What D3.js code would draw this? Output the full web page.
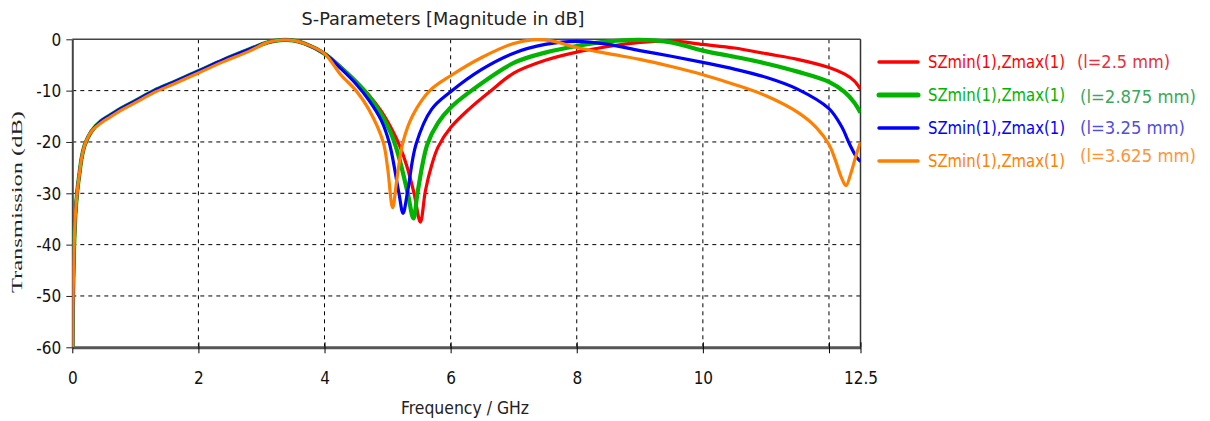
<!DOCTYPE html>
<html><head><meta charset="utf-8">
<script src="https://cdn.jsdelivr.net/npm/d3@7"></script>
<style>
html,body{margin:0;padding:0;background:#fff;}
svg{display:block;}
</style></head>
<body>
<svg id="chart" width="1210" height="421"></svg>
<script>
// ---------- data ----------
const xTicks = [0, 2, 4, 6, 8, 10, 12, 12.5];
const xTickLabels = ["0", "2", "4", "6", "8", "10", "", "12.5"];
const yTicks = [0, -10, -20, -30, -40, -50, -60];
const seriesNames = ["SZmin(1),Zmax(1)", "SZmin(1),Zmax(1)", "SZmin(1),Zmax(1)", "SZmin(1),Zmax(1)"];
const seriesLengths = ["(l=2.5 mm)", "(l=2.875 mm)", "(l=3.25 mm)", "(l=3.625 mm)"];
const seriesColors = ["#ff0000", "#00b400", "#0000ff", "#ff8000"];
const labelColors = ["#e8303c", "#3aa85a", "#5050dc", "#ff9438"];

// shared low-frequency part (GHz, dB)
const commonF = [0.005, 0.01, 0.02, 0.03, 0.05, 0.08, 0.11, 0.15, 0.2, 0.3, 0.45, 0.6, 0.8, 1.0, 1.3, 1.6, 2.0, 2.4, 2.8, 3.1, 3.3, 3.5, 3.7, 4.0];
const commonDb = [-60, -52, -45, -40, -34, -29.5, -26.5, -23, -20.5, -18, -16, -14.8, -13.3, -12, -10, -8.4, -6.2, -4.0, -2.0, -0.6, -0.15, -0.2, -0.9, -2.8];

const redF  = [4.25, 4.5, 4.7, 4.9, 5.1, 5.2, 5.3, 5.42, 5.52, 5.6, 5.7, 5.8, 6.0, 6.3, 6.64, 7.0, 7.5, 8.0, 8.5, 9.0, 9.5, 10.0, 10.5, 11.0, 11.5, 12.0, 12.25, 12.4, 12.5];
const redDb = [-5.3, -8.2, -10.8, -14, -18.3, -21, -24.5, -30, -35.6, -29.5, -24.5, -21, -17.2, -13.5, -10, -6.6, -4.1, -2.5, -1.4, -0.6, -0.3, -1.0, -1.7, -2.8, -3.9, -5.5, -6.8, -8.1, -9.7];

const greenF  = [4.25, 4.5, 4.7, 4.9, 5.05, 5.17, 5.32, 5.41, 5.48, 5.63, 5.8, 6.0, 6.33, 7.0, 7.5, 8.0, 8.5, 9.0, 9.5, 10.0, 10.5, 11.0, 11.5, 12.0, 12.25, 12.4, 12.5];
const greenDb = [-5.4, -8.3, -11, -14.6, -18.2, -22.5, -30, -34.9, -29.5, -20.5, -16.3, -13.3, -10, -4.6, -2.6, -1.3, -0.4, -0.1, -0.6, -2.2, -3.4, -4.7, -6.3, -8.3, -10.3, -12.3, -14.3];

const blueF  = [4.25, 4.5, 4.7, 4.9, 5.03, 5.18, 5.245, 5.32, 5.45, 5.7, 6.0, 6.5, 7.0, 7.5, 8.0, 8.5, 9.0, 9.5, 10.0, 10.5, 11.0, 11.5, 12.0, 12.2, 12.33, 12.44, 12.5];
const blueDb = [-5.6, -8.7, -11.8, -15.8, -20.3, -30, -33.9, -29.5, -20.5, -13.6, -10.2, -5.8, -2.7, -1.0, -0.4, -1.0, -2.2, -3.3, -4.5, -5.8, -7.4, -9.7, -13.5, -17, -20.5, -23, -23.8];

const orangeF  = [4.25, 4.5, 4.7, 4.93, 5.0, 5.08, 5.15, 5.245, 5.4, 5.67, 6.0, 6.5, 7.0, 7.3, 7.6, 8.0, 8.5, 9.0, 9.5, 10.0, 10.5, 11.0, 11.5, 11.8, 12.0, 12.1, 12.2, 12.27, 12.35, 12.42, 12.5];
const orangeDb = [-6.8, -10, -13.6, -20, -25, -32.8, -27, -20, -14.8, -10, -7.1, -3.5, -0.8, -0.1, -0.3, -1.6, -2.8, -3.9, -5.3, -6.9, -8.8, -11, -14.2, -17.2, -20.5, -23.5, -27, -28.5, -26, -23, -20];

// ---------- layout ----------
const svg = d3.select("#chart");
const L = 72.3, R = 860.5, T = 39.3, B = 347.3;
const x = d3.scaleLinear().domain([0, 12.5]).range([L, R]);
const y = d3.scaleLinear().domain([-60, 0]).range([B, T]);
const tickFont = "'DejaVu Sans Condensed', 'DejaVu Sans', sans-serif";

// grid
const grid = svg.append("g");
grid.selectAll("line.v").data(xTicks.filter(d => d > 0 && d < 12.5)).join("line")
  .attr("x1", d => x(d)).attr("x2", d => x(d)).attr("y1", T).attr("y2", B)
  .attr("stroke", "#000").attr("stroke-width", 1).attr("stroke-dasharray", "4,4");
grid.selectAll("line.h").data(yTicks.filter(d => d < 0 && d > -60)).join("line")
  .attr("x1", L).attr("x2", R).attr("y1", d => y(d)).attr("y2", d => y(d))
  .attr("stroke", "#000").attr("stroke-width", 1).attr("stroke-dasharray", "4,4");

// border top/right
svg.append("line").attr("x1", L).attr("x2", R).attr("y1", T).attr("y2", T).attr("stroke", "#444").attr("stroke-width", 1.5);
svg.append("line").attr("x1", R).attr("x2", R).attr("y1", T).attr("y2", B).attr("stroke", "#333").attr("stroke-width", 1.5);

// axes
const xAxis = d3.axisBottom(x).tickValues(xTicks).tickSize(6).tickSizeOuter(0)
  .tickFormat((d, i) => xTickLabels[i]);
const gx = svg.append("g").attr("transform", `translate(0,${B})`).call(xAxis);
gx.select(".domain").attr("stroke", "#555").attr("stroke-width", 3);
gx.selectAll(".tick line").attr("stroke", "#000").attr("y1", -5).attr("y2", 6);
gx.selectAll(".tick text").attr("font-family", tickFont).attr("font-size", 17)
  .attr("fill", "#111").attr("dy", 0).attr("y", 37);

const yAxis = d3.axisLeft(y).tickValues(yTicks).tickSize(6).tickSizeOuter(0)
  .tickFormat(d => String(d));
const gy = svg.append("g").attr("transform", `translate(${L},0)`).call(yAxis);
gy.select(".domain").attr("stroke", "#444").attr("stroke-width", 2);
gy.selectAll(".tick line").attr("stroke", "#222");
gy.selectAll(".tick text").attr("font-family", tickFont).attr("font-size", 17)
  .attr("fill", "#111").attr("x", -11).attr("dy", "0.35em");

// curves
const series = [
  { f: commonF.concat(redF), db: commonDb.concat(redDb), w: 3.2 },
  { f: commonF.concat(greenF), db: commonDb.concat(greenDb), w: 4.2 },
  { f: commonF.concat(blueF), db: commonDb.concat(blueDb), w: 3.2 },
  { f: commonF.concat(orangeF), db: commonDb.map((v, i) => v - (commonF[i] > 0.3 && commonF[i] < 3.0 ? 0.35 : 0)).concat(orangeDb), w: 3.2 }
];
const line = d3.line().x(d => x(d[0])).y(d => y(d[1])).curve(d3.curveCatmullRom.alpha(0.5));
const clip = svg.append("clipPath").attr("id", "clip").append("rect")
  .attr("x", L).attr("y", T - 3).attr("width", R - L).attr("height", B - T + 3);
svg.append("g").attr("clip-path", "url(#clip)").selectAll("path").data(series).join("path")
  .attr("d", s => line(s.f.map((f, i) => [f, s.db[i]])))
  .attr("fill", "none").attr("stroke", (s, i) => seriesColors[i])
  .attr("stroke-width", s => s.w).attr("stroke-linejoin", "round");

// title and axis labels
svg.append("text").attr("x", 443).attr("y", 25).attr("text-anchor", "middle")
  .attr("font-family", tickFont).attr("font-size", 17).attr("fill", "#222")
  .attr("textLength", 283).attr("lengthAdjust", "spacingAndGlyphs")
  .text("S-Parameters [Magnitude in dB]");
svg.append("text").attr("x", 465).attr("y", 414).attr("text-anchor", "middle")
  .attr("font-family", tickFont).attr("font-size", 17).attr("fill", "#222")
  .attr("textLength", 128).attr("lengthAdjust", "spacingAndGlyphs")
  .text("Frequency / GHz");
svg.append("text").attr("transform", "translate(22,202) rotate(-90)").attr("text-anchor", "middle")
  .attr("font-family", "'Liberation Serif', 'Times New Roman', serif").attr("font-size", 15).attr("fill", "#222")
  .attr("textLength", 182).attr("lengthAdjust", "spacingAndGlyphs")
  .text("Transmission (dB)");

// legend
const legY = [62, 95, 128, 161];
const lenDy = [0, 2, 0, -5];
const lenX = [1077, 1080, 1080, 1080];
const lenW = [93, 116, 105, 116];
const leg = svg.append("g");
seriesNames.forEach((name, i) => {
  leg.append("line").attr("x1", 879).attr("x2", 918).attr("y1", legY[i]).attr("y2", legY[i])
    .attr("stroke", seriesColors[i]).attr("stroke-width", i === 1 ? 5 : 3.5).attr("stroke-linecap", "round");
  leg.append("text").attr("x", 928).attr("y", legY[i] + 6).attr("font-family", tickFont)
    .attr("font-size", 18).attr("fill", seriesColors[i])
    .attr("textLength", 137).attr("lengthAdjust", "spacingAndGlyphs").text(name);
  leg.append("text").attr("x", lenX[i]).attr("y", legY[i] + 6 + lenDy[i]).attr("font-family", tickFont)
    .attr("font-size", 18).attr("fill", labelColors[i])
    .attr("textLength", lenW[i]).attr("lengthAdjust", "spacingAndGlyphs").text(seriesLengths[i]);
});
</script>
</body></html>
